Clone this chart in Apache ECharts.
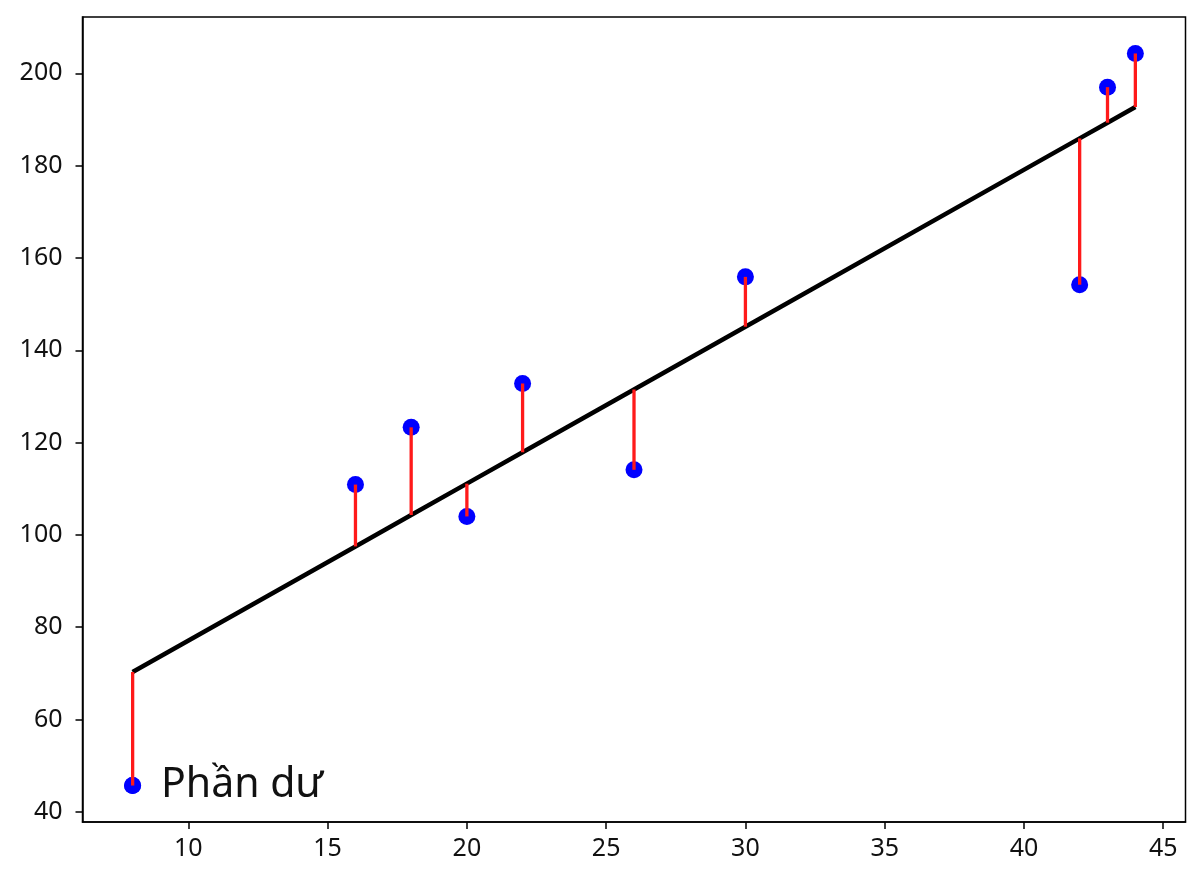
<!DOCTYPE html>
<html>
<head>
<meta charset="utf-8">
<script src="https://cdn.jsdelivr.net/npm/echarts@6/dist/echarts.min.js"></script>
<style>html,body{margin:0;padding:0;background:#fff}#c{width:1200px;height:880px}</style>
</head>
<body>
<div id="c"></div>
<script>
// Data
var xValues = [8, 16, 18, 20, 22, 26, 30, 42, 43, 44];
var yObserved = [45.7, 110.9, 123.3, 104.0, 132.8, 114.1, 155.9, 154.2, 197.0, 204.3];
var yFitted = [70.3, 97.5, 104.3, 111.1, 117.9, 131.5, 145.1, 185.9, 189.3, 192.7];
var xTicks = [10, 15, 20, 25, 30, 35, 40, 45];
var yTicks = [40, 60, 80, 100, 120, 140, 160, 180, 200];
var legendLabel = 'Phần dư';

var scatterData = xValues.map(function (x, i) { return [x, yObserved[i]]; });
var fitData = xValues.map(function (x, i) { return [x, yFitted[i]]; });
var residData = xValues.map(function (x, i) { return [x, yObserved[i], yFitted[i]]; });

var FONT = 'Noto Sans';
var chart = echarts.init(document.getElementById('c'), null, {renderer: 'canvas'});
chart.setOption({
  animation: false,
  backgroundColor: '#fff',
  textStyle: {fontFamily: FONT},
  grid: {left: 82.5, top: 17, right: 14.5, bottom: 58, show: true, borderColor: '#000', borderWidth: 1.5, backgroundColor: '#fff'},
  legend: {
    data: [{name: legendLabel, icon: 'circle'}],
    left: 119, top: 760,
    itemWidth: 17, itemHeight: 17,
    selectedMode: false,
    textStyle: {fontFamily: FONT, fontSize: 41, color: '#111', padding: [0, 0, 0, 15]}
  },
  xAxis: {
    type: 'value', min: 6.2, max: 45.8,
    splitLine: {show: false},
    axisLine: {show: true, onZero: false, lineStyle: {color: '#000', width: 1.5}},
    axisTick: {show: true, inside: false, length: 7, lineStyle: {color: '#000', width: 1.5}, customValues: xTicks},
    axisLabel: {customValues: xTicks, fontSize: 25, color: '#111', margin: 14, fontFamily: FONT}
  },
  yAxis: {
    type: 'value', min: 37.8, max: 212.2,
    splitLine: {show: false},
    axisLine: {show: true, onZero: false, lineStyle: {color: '#000', width: 1.5}},
    axisTick: {show: true, inside: false, length: 7, lineStyle: {color: '#000', width: 1.5}, customValues: yTicks},
    axisLabel: {customValues: yTicks, fontSize: 25, color: '#111', margin: 20, fontFamily: FONT}
  },
  series: [
    {
      name: legendLabel, type: 'scatter', data: scatterData,
      symbol: 'circle', symbolSize: 17, z: 2,
      itemStyle: {color: '#0000ff', opacity: 1}
    },
    {
      name: 'fit', type: 'line', data: fitData, z: 3,
      showSymbol: false, symbol: 'none',
      lineStyle: {color: '#000', width: 4.5}
    },
    {
      name: 'resid', type: 'custom', data: residData, z: 4,
      renderItem: function (params, api) {
        var p1 = api.coord([api.value(0), api.value(1)]);
        var p2 = api.coord([api.value(0), api.value(2)]);
        return {type: 'line', shape: {x1: p1[0], y1: p1[1], x2: p2[0], y2: p2[1]},
          style: {stroke: '#ff1a1a', lineWidth: 3.3}};
      },
      encode: {x: 0, y: [1, 2]}
    }
  ]
});
</script>
</body>
</html>
